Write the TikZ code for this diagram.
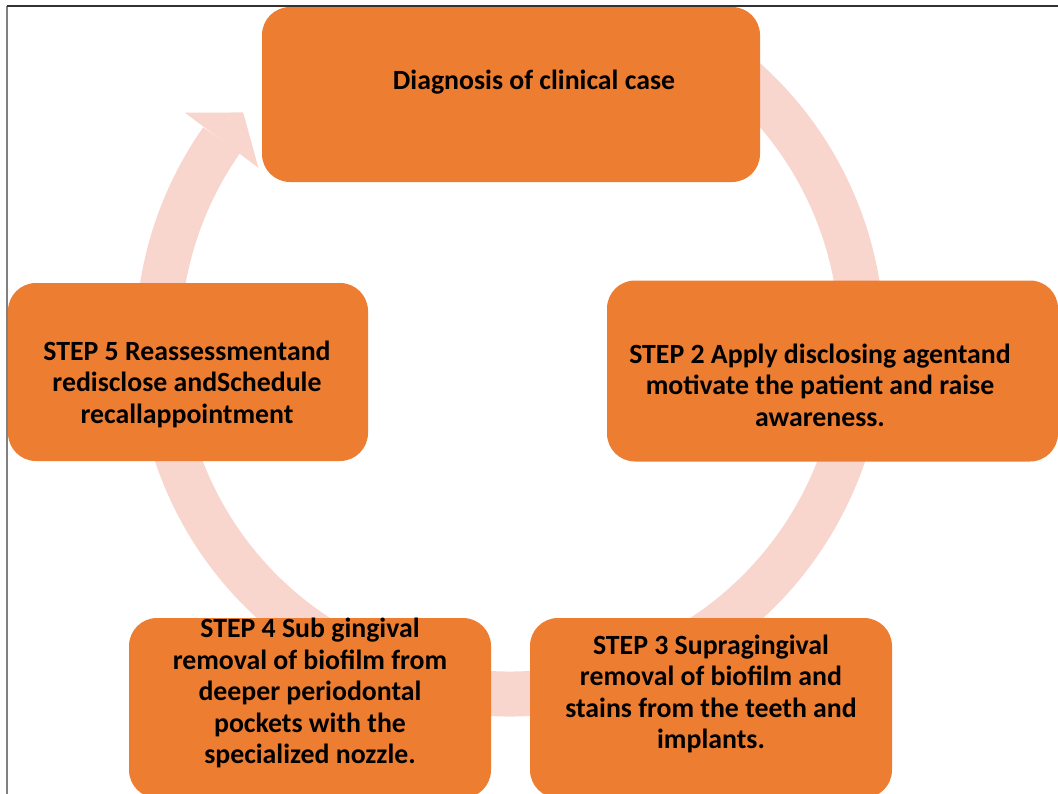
\documentclass[tikz,border=0pt]{standalone}
\usepackage{fontspec}
\setmainfont{Carlito}
\usetikzlibrary{calc}
\definecolor{boxorange}{RGB}{237,125,49}
\definecolor{ringpink}{RGB}{248,214,206}
\definecolor{frameleft}{RGB}{128,128,128}
\definecolor{frametop}{RGB}{50,50,50}
\begin{document}
\begin{tikzpicture}[x=1pt,y=1pt,
  stepbox/.style={fill=boxorange,draw=none,rounded corners=28pt,inner sep=0pt,minimum width=#1},
  steptext/.style={align=center,inner sep=0pt,font=\fontsize{27.8}{31.5}\selectfont\bfseries,text=black}]
\useasboundingbox (0,0) rectangle (1058,-793);
\clip (0,0) rectangle (1058,-793);
\fill[white] (0,0) rectangle (1058,-793);
% frame
\draw[frameleft,line width=1.5pt] (7,-6) -- (7,-800);
\draw[frametop,line width=1.5pt] (7,-6) -- (1060,-6);
% ring
\coordinate (c) at (510,-342);
\draw[ringpink,line width=45pt] (c) ++(145:352) arc[start angle=145,end angle=415,radius=352];
\fill[ringpink] ($(c)+(144.8:398)$) -- ($(c)+(139.3:352)$) -- ($(c)+(145.3:306)$) -- cycle;
% boxes
\node[stepbox=498pt,minimum height=175pt] (diag) at (511,-94.5) {};
\node[stepbox=451pt,minimum height=181pt] (s2) at (832.5,-371) {};
\node[stepbox=360pt,minimum height=178pt] (s5) at (188,-372) {};
\node[stepbox=362pt,minimum height=180pt] (s4) at (310,-708) {};
\node[stepbox=362pt,minimum height=180pt] (s3) at (711,-708) {};
% texts
\node[steptext] (tdiag) at (534,-82) {Diagnosis of clinical case};
\node[steptext] (ts2) at (820,-385) {STEP 2 Apply disclosing agentand\\motivate the patient and raise\\awareness.};
\node[steptext] (ts5) at (187,-384) {STEP 5 Reassessmentand\\redisclose andSchedule\\recallappointment};
\node[steptext] (ts4) at (310,-693) {STEP 4 Sub gingival\\removal of biofilm from\\deeper periodontal\\pockets with the\\specialized nozzle.};
\node[steptext] (ts3) at (711,-694) {STEP 3 Supragingival\\removal of biofilm and\\stains from the teeth and\\implants.};
\end{tikzpicture}
\end{document}
